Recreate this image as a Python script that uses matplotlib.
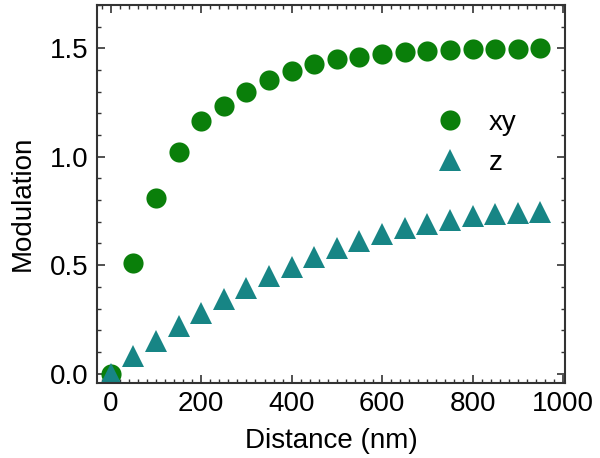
import numpy as np
import matplotlib.pyplot as plt
from matplotlib.ticker import MultipleLocator

plt.rcParams['font.family'] = ['Liberation Sans', 'DejaVu Sans']

dist = [0, 50, 100, 150, 200, 250, 300, 350, 400, 450,
        500, 550, 600, 650, 700, 750, 800, 850, 900, 950]
mod_xy = [0.0, 0.51, 0.81, 1.02, 1.166, 1.234, 1.297, 1.353, 1.397, 1.428,
          1.452, 1.461, 1.474, 1.482, 1.488, 1.492, 1.495, 1.497, 1.498, 1.5]
mod_z = [0.0, 0.081, 0.151, 0.219, 0.281, 0.342, 0.394, 0.45, 0.493, 0.537,
         0.577, 0.61, 0.642, 0.67, 0.69, 0.71, 0.725, 0.736, 0.741, 0.744]

fig = plt.figure(figsize=(6, 4.58), dpi=100)
ax = fig.add_axes([0.162, 0.164, 0.78, 0.825])

ax.plot(dist, mod_xy, 'o', color='#0a7f0a', markersize=14.5, markeredgewidth=0, label='xy')
ax.plot(dist, mod_z, '^', color='#178585', markersize=16, markeredgewidth=0, label='z')

ax.set_xlim(-30, 1005)
ax.set_ylim(-0.043, 1.70)
ax.xaxis.set_major_locator(MultipleLocator(200))
ax.xaxis.set_minor_locator(MultipleLocator(20))
ax.yaxis.set_major_locator(MultipleLocator(0.5))
ax.yaxis.set_minor_locator(MultipleLocator(0.1))
ax.yaxis.set_major_formatter(plt.FormatStrFormatter('%.1f'))

ax.tick_params(which='both', direction='in', top=True, right=True,
               labeltop=False, labelright=False, color='#333333')
ax.tick_params(which='major', length=6, width=1.2, labelsize=20, pad=6)
ax.tick_params(which='minor', length=3, width=1.0)
for s in ax.spines.values():
    s.set_linewidth(1.5)
    s.set_color('#333333')

ax.set_xlabel('Distance (nm)', fontsize=20, labelpad=8)
ax.set_ylabel('Modulation', fontsize=20)
ax.yaxis.set_label_coords(-0.132, 0.474)

ax.legend(loc='center left', bbox_to_anchor=(0.641, 0.636), frameon=False,
          fontsize=20, handletextpad=0.4, labelspacing=0.5, numpoints=1)

fig.savefig('out.png', dpi=100)
